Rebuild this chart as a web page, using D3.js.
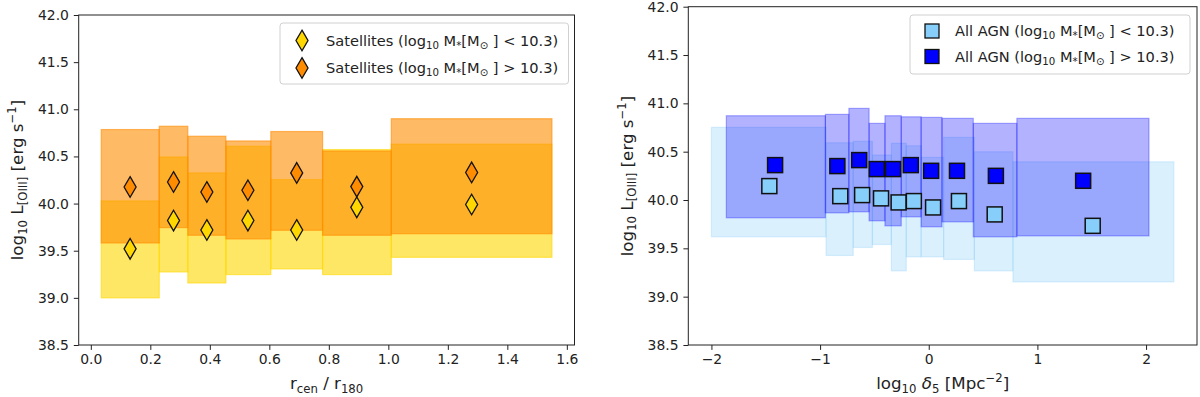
<!DOCTYPE html>
<html>
<head>
<meta charset="utf-8">
<script src="https://cdn.jsdelivr.net/npm/d3@7"></script>
<style>
  body { margin: 0; background: #fff; }
  text { font-family: "DejaVu Sans", sans-serif; fill: #222; }
</style>
</head>
<body>
<div id="chart"></div>
<script>
// ---- left panel: satellites vs r_cen / r_180 ----
const satBinEdges = [0.035, 0.23, 0.326, 0.454, 0.605, 0.779, 1.01, 1.55];
const satX        = [0.132, 0.278, 0.390, 0.528, 0.692, 0.894, 1.28];
const satLowMed   = [39.52, 39.82, 39.72, 39.82, 39.72, 39.96, 39.99];
const satLowP16   = [39.00, 39.275, 39.158, 39.247, 39.307, 39.247, 39.43];
const satLowP84   = [40.028, 40.494, 40.325, 40.608, 40.254, 40.573, 40.63];
const satHighMed  = [40.176, 40.229, 40.123, 40.141, 40.325, 40.18, 40.33];
const satHighP16  = [39.582, 39.745, 39.664, 39.625, 39.717, 39.664, 39.68];
const satHighP84  = [40.785, 40.82, 40.714, 40.664, 40.764, 40.558, 40.90];
const satXTicks   = [0.0, 0.2, 0.4, 0.6, 0.8, 1.0, 1.2, 1.4, 1.6];

// ---- right panel: all AGN vs log10 delta_5 ----
const agnLowEdges  = [-2.0, -0.945, -0.695, -0.518, -0.344, -0.207, -0.070, 0.137, 0.42, 0.775, 2.256];
const agnLowX      = [-1.467, -0.814, -0.613, -0.439, -0.277, -0.137, 0.040, 0.278, 0.607, 1.509];
const agnLowMed    = [40.144, 40.04, 40.051, 40.017, 39.975, 39.989, 39.923, 39.989, 39.851, 39.733];
const agnLowP16    = [39.619, 39.426, 39.509, 39.54, 39.267, 39.412, 39.412, 39.385, 39.267, 39.153];
const agnLowP84    = [40.752, 40.592, 40.607, 40.465, 40.586, 40.561, 40.441, 40.648, 40.499, 40.395];
const agnHighEdges = [-1.863, -0.951, -0.735, -0.549, -0.403, -0.253, -0.070, 0.122, 0.41, 0.811, 2.027];
const agnHighX     = [-1.414, -0.841, -0.640, -0.478, -0.329, -0.165, 0.022, 0.260, 0.618, 1.421];
const agnHighMed   = [40.361, 40.351, 40.413, 40.32, 40.32, 40.361, 40.302, 40.302, 40.25, 40.199];
const agnHighP16   = [39.816, 39.867, 39.878, 39.785, 39.733, 39.826, 39.723, 39.774, 39.619, 39.629];
const agnHighP84   = [40.872, 40.886, 40.948, 40.793, 40.872, 40.861, 40.855, 40.845, 40.793, 40.845];
const agnXTicks    = [-2, -1, 0, 1, 2];

const yTicks = [38.5, 39.0, 39.5, 40.0, 40.5, 41.0, 41.5, 42.0];

const width = 1200, height = 397;
const plotBottom = 345;
const tickFont = 13.9, labelFont = 16.7, legendFont = 14.6;

const svg = d3.select("#chart").append("svg")
    .attr("width", width)
    .attr("height", height);

// matplotlib-like 5% margins around the data
function padded(lo, hi) {
    const p = (hi - lo) * 0.05;
    return [lo - p, hi + p];
}

// text with sub/superscripts, parts = [[string, mode]]
function rich(sel, parts, fs) {
    let shift = 0;
    parts.forEach(([t, m]) => {
        const ts = sel.append("tspan").text(t);
        let target = 0, size = fs;
        if (m === "sub") { target = 0.22 * fs; size = 0.7 * fs; }
        if (m === "sup") { target = -0.42 * fs; size = 0.7 * fs; }
        if (m === "it") ts.attr("font-style", "italic");
        ts.attr("font-size", size).attr("dy", target - shift);
        shift = target;
    });
}

function makePanel(left, right, top, xDomain, xTicks, xFormat) {
    const x = d3.scaleLinear().domain(xDomain).range([left, right]);
    const y = d3.scaleLinear().domain([38.5, 42.0]).range([plotBottom, top]);
    const g = svg.append("g");
    const boxes = g.append("g");
    const marks = g.append("g");
    const axes = g.append("g");

    const xa = axes.append("g")
        .attr("transform", `translate(0,${plotBottom})`)
        .call(d3.axisBottom(x).tickValues(xTicks).tickFormat(xFormat).tickSize(4.9).tickPadding(4.5));
    const ya = axes.append("g")
        .attr("transform", `translate(${left},0)`)
        .call(d3.axisLeft(y).tickValues(yTicks).tickFormat(d3.format(".1f")).tickSize(4.9).tickPadding(4.9));
    [xa, ya].forEach(a => {
        a.select(".domain").remove();
        a.attr("font-family", null).attr("font-size", null);
        a.selectAll("text").attr("font-size", tickFont).attr("fill", "#222");
        a.selectAll("line").attr("stroke", "#222").attr("stroke-width", 1);
    });
    axes.append("rect")
        .attr("x", left).attr("y", top)
        .attr("width", right - left).attr("height", plotBottom - top)
        .attr("fill", "none").attr("stroke", "#222").attr("stroke-width", 1);
    return {x, y, boxes, marks, g};
}

function drawBoxes(p, edges, lo, hi, color, alpha) {
    p.boxes.append("g").selectAll("rect")
        .data(lo.map((d, i) => ({x0: edges[i], x1: edges[i + 1], lo: d, hi: hi[i]})))
        .join("rect")
        .attr("x", d => p.x(d.x0))
        .attr("width", d => p.x(d.x1) - p.x(d.x0))
        .attr("y", d => p.y(d.hi))
        .attr("height", d => p.y(d.lo) - p.y(d.hi))
        .attr("fill", color).attr("fill-opacity", alpha)
        .attr("stroke", color).attr("stroke-opacity", alpha).attr("stroke-width", 1.2);
}

const diamond = "M0,-10.3L6,0L0,10.3L-6,0Z";

function drawDiamonds(p, xs, ys, color) {
    p.marks.append("g").selectAll("path")
        .data(xs.map((d, i) => [d, ys[i]]))
        .join("path")
        .attr("d", diamond)
        .attr("transform", d => `translate(${p.x(d[0])},${p.y(d[1])})`)
        .attr("fill", color).attr("stroke", "#111").attr("stroke-width", 1.3);
}

function drawSquares(p, xs, ys, color) {
    const s = 15;
    p.marks.append("g").selectAll("rect")
        .data(xs.map((d, i) => [d, ys[i]]))
        .join("rect")
        .attr("x", d => p.x(d[0]) - s / 2)
        .attr("y", d => p.y(d[1]) - s / 2)
        .attr("width", s).attr("height", s)
        .attr("fill", color).attr("stroke", "#111").attr("stroke-width", 1.5);
}

function legend(x0, y0, w, h, rows, markerX, textX, fs, drawMarker) {
    const lg = svg.append("g");
    lg.append("rect")
        .attr("x", x0).attr("y", y0).attr("width", w).attr("height", h)
        .attr("rx", 3).attr("fill", "#fff").attr("fill-opacity", 0.8)
        .attr("stroke", "#d0d0d0").attr("stroke-width", 1);
    rows.forEach(r => {
        drawMarker(lg, markerX, r.y, r.color);
        const t = lg.append("text").attr("x", textX).attr("y", r.y + fs * 0.36).attr("font-size", fs);
        rich(t, r.parts, fs);
    });
}

function massParts(prefix, cmp) {
    return [[prefix + " (log", "n"], ["10", "sub"], [" M", "n"], ["*", "sub"],
            ["[M", "n"], ["\u2299", "sub"], [" ] " + cmp + " 10.3)", "n"]];
}

function yLabel(bx, cy) {
    const t = svg.append("text")
        .attr("transform", `translate(${bx},${cy}) rotate(-90)`)
        .attr("text-anchor", "middle")
        .attr("font-size", labelFont);
    rich(t, [["log", "n"], ["10", "sub"], [" L", "n"], ["[OIII]", "sub"], [" [erg s", "n"], ["\u22121", "sup"], ["]", "n"]], labelFont);
}

// ---- left panel ----
const pL = makePanel(78.7, 574.5, 15, padded(satBinEdges[0], satBinEdges[satBinEdges.length - 1]),
    satXTicks, d3.format(".1f"));
drawBoxes(pL, satBinEdges, satLowP16, satLowP84, "#FFD700", 0.6);
drawBoxes(pL, satBinEdges, satHighP16, satHighP84, "#FF8C00", 0.6);
drawDiamonds(pL, satX, satLowMed, "#FFD700");
drawDiamonds(pL, satX, satHighMed, "#FF8C00");

legend(280, 23, 288.5, 61, [
    {y: 40.5, color: "#FFD700", parts: massParts("Satellites", "<")},
    {y: 68, color: "#FF8C00", parts: massParts("Satellites", ">")}
], 302, 326, legendFont, (g, x, y, c) => {
    g.append("path").attr("d", diamond).attr("transform", `translate(${x},${y})`)
        .attr("fill", c).attr("stroke", "#111").attr("stroke-width", 1.3);
});

yLabel(23, 180);
{
    const t = svg.append("text").attr("x", (78.7 + 574.5) / 2).attr("y", 389)
        .attr("text-anchor", "middle").attr("font-size", labelFont);
    rich(t, [["r", "n"], ["cen", "sub"], [" / r", "n"], ["180", "sub"]], labelFont);
}

// ---- right panel ----
const pR = makePanel(688.3, 1197, 6.7, padded(agnLowEdges[0], agnLowEdges[agnLowEdges.length - 1]),
    agnXTicks, d3.format("d"));
drawBoxes(pR, agnLowEdges, agnLowP16, agnLowP84, "#87CEFA", 0.3);
drawBoxes(pR, agnHighEdges, agnHighP16, agnHighP84, "#0000FF", 0.3);
drawSquares(pR, agnLowX, agnLowMed, "#87CEFA");
drawSquares(pR, agnHighX, agnHighMed, "#0000FF");

legend(910, 15, 280, 59, [
    {y: 31, color: "#87CEFA", parts: massParts("All AGN", "<")},
    {y: 56.5, color: "#0000FF", parts: massParts("All AGN", ">")}
], 932, 955, legendFont, (g, x, y, c) => {
    g.append("rect").attr("x", x - 7).attr("y", y - 7).attr("width", 14).attr("height", 14)
        .attr("fill", c).attr("stroke", "#111").attr("stroke-width", 1.3);
});

yLabel(632.5, 176);
{
    const t = svg.append("text").attr("x", (688.3 + 1197) / 2).attr("y", 389)
        .attr("text-anchor", "middle").attr("font-size", labelFont);
    rich(t, [["log", "n"], ["10", "sub"], [" ", "n"], ["\u03b4", "it"], ["5", "sub"],
             [" [Mpc", "n"], ["\u22122", "sup"], ["]", "n"]], labelFont);
}
</script>
</body>
</html>
